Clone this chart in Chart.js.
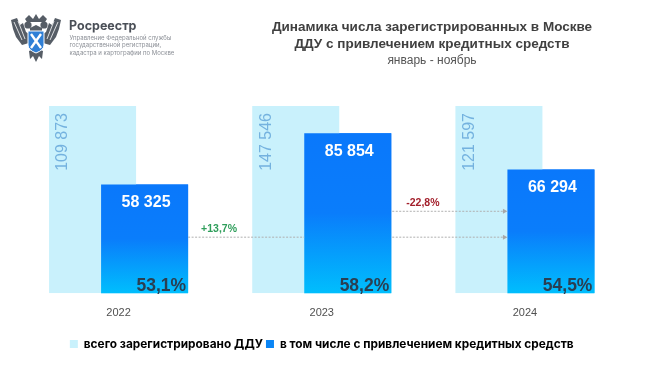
<!DOCTYPE html>
<html lang="ru"><head><meta charset="utf-8">
<script src="https://cdn.jsdelivr.net/npm/chart.js@4"></script>
<style>
html,body{margin:0;padding:0;background:#fff}
#wrap{position:relative;width:650px;height:365px;overflow:hidden;font-family:"Liberation Sans",Arial,sans-serif}
canvas{position:absolute;left:0;top:0}
.t{position:absolute;white-space:nowrap}
#title{left:207px;width:450px;top:19px;text-align:center;color:#404040;font-weight:bold;font-size:13.5px;line-height:16.5px}
#title div.s{font-weight:normal;font-size:12px;color:#555;line-height:16px}
#brand{left:69px;top:18px;font-family:Inter,sans-serif;font-weight:700;font-size:12.5px;color:#4a4f57}
#sub{left:69.5px;top:34px;font-family:Inter,sans-serif;font-size:6px;line-height:7.3px;color:#8b8f96}
svg{position:absolute;left:9px;top:12px}
</style></head><body>
<div id="wrap">
<canvas id="c" width="650" height="365"></canvas>
<svg width="54" height="52" viewBox="0 0 54 52">
 <g fill="#565d66">
  <path d="M2 8 L8 6 L11 13 L14 11 L17 20 L20 22 L20 31 L13 33 L7 25 L4 17Z"/>
  <path d="M52 8 L46 6 L43 13 L40 11 L37 20 L34 22 L34 31 L41 33 L47 25 L50 17Z"/>
  <circle cx="19" cy="13" r="3.6"/><circle cx="35" cy="13" r="3.6"/>
  <path d="M16 7 L20 3 L24 7 L27 2 L30 7 L34 3 L38 7 L36 10 L18 10Z"/>
  <path d="M21 16 L27 13 L33 16 L33 22 L21 22Z"/>
  <path d="M20 39 L27 36 L34 39 L33 47 L30 44 L27 50 L24 44 L21 47Z"/>
 </g>
 <path d="M5 10 L13 28 M9 9 L16 27 M49 10 L41 28 M45 9 L38 27" stroke="#fff" stroke-width=".8"/>
 <path d="M19 19 H35 V33 Q35 38 27 41 Q19 38 19 33Z" fill="#2f7fd6" stroke="#fff" stroke-width="1"/>
 <path d="M22 22 L32 36 M32 22 L22 36" stroke="#fff" stroke-width="2.4"/>
</svg>
<div class="t" id="brand">Росреестр</div>
<div class="t" id="sub">Управление Федеральной службы<br>государственной регистрации,<br>кадастра и картографии по Москве</div>
<div class="t" id="title">Динамика числа зарегистрированных в Москве<br>ДДУ с привлечением кредитных средств<div class="s">январь - ноябрь</div></div>
</div>
<script>
const categories = ["2022", "2023", "2024"];
const totalValues = [109873, 147546, 121597];
const creditValues = [58325, 85854, 66294];
const shareLabels = ["53,1%", "58,2%", "54,5%"];
const totalLabel = "всего зарегистрировано ДДУ";
const creditLabel = "в том числе с привлечением кредитных средств";
const changes = [
  {label: "+13,7%", color: "#2f9e5b", value: 30300, from: 0, to: 2},
  {label: "-22,8%", color: "#a31f2b", value: 44200, from: 1, to: 2}
];
const axisMax = 100430;

const fmt = v => String(v).replace(/\B(?=(\d{3})+$)/g, " ");

function creditGradient(ctx) {
  const chart = ctx.chart;
  if (ctx.type !== "data" || !chart.chartArea) return "#0a7bfa";
  const y = chart.scales.y;
  const top = y.getPixelForValue(creditValues[ctx.dataIndex]);
  const g = chart.ctx.createLinearGradient(0, top, 0, y.getPixelForValue(0));
  g.addColorStop(0, "#0a78fb");
  g.addColorStop(0.5, "#0a7dfb");
  g.addColorStop(1, "#00befd");
  return g;
}

const overlay = {
  id: "overlay",
  // the credit bars overlap the total bars and must sit in front of them
  afterDatasetDraw(chart, args) {
    if (args.index === 0) chart.getDatasetMeta(1).data.forEach(b => b.draw(chart.ctx));
  },
  afterDatasetsDraw(chart) {
    const c = chart.ctx, y = chart.scales.y;
    const light = chart.getDatasetMeta(0).data, dark = chart.getDatasetMeta(1).data;
    c.save();
    light.forEach((b, i) => {
      c.save();
      c.translate(b.x - b.width / 2 + 14, y.top + 7);
      c.rotate(-Math.PI / 2);
      c.font = "16px 'Liberation Sans'";
      c.fillStyle = "#74b2df";
      c.textAlign = "right";
      c.textBaseline = "middle";
      c.fillText(fmt(totalValues[i]), 0, 0);
      c.restore();
    });
    dark.forEach((b, i) => {
      c.font = "bold 16px 'Liberation Sans'";
      c.fillStyle = "#fff";
      c.textAlign = "center";
      c.textBaseline = "middle";
      c.fillText(fmt(creditValues[i]), b.x + 1.5, b.y + 18);
      c.font = "bold 17.5px 'Liberation Sans'";
      c.fillStyle = "#2a3f52";
      c.textAlign = "right";
      c.textBaseline = "alphabetic";
      c.fillText(shareLabels[i], b.x + b.width / 2 - 2, y.bottom - 2);
    });
    changes.forEach(ch => {
      const py = y.getPixelForValue(ch.value);
      const x0 = dark[ch.from].x + dark[ch.from].width / 2;
      const x1 = dark[ch.to].x - dark[ch.to].width / 2;
      c.strokeStyle = "#b0b0b0";
      c.lineWidth = 1;
      c.setLineDash([2, 1.5]);
      const seg = (a, b) => { c.beginPath(); c.moveTo(a, py + .5); c.lineTo(b, py + .5); c.stroke(); };
      if (ch.to - ch.from === 2) {
        const m = dark[ch.from + 1];
        seg(x0, m.x - m.width / 2);
        seg(m.x + m.width / 2 + 1, x1 - 4);
      } else seg(x0 + 1, x1 - 4);
      c.setLineDash([]);
      c.fillStyle = "#a8a8a8";
      c.beginPath(); c.moveTo(x1, py + .5); c.lineTo(x1 - 4.5, py - 2); c.lineTo(x1 - 4.5, py + 3); c.fill();
      c.font = "bold 10.5px 'Liberation Sans'";
      c.fillStyle = ch.color;
      c.textAlign = "left";
      c.textBaseline = "alphabetic";
      c.fillText(ch.label, ch.from === 0 ? x0 + 13 : x0 + 15, py - 5);
    });
    c.restore();
  }
};

new Chart(document.getElementById("c"), {
  type: "bar",
  data: {
    labels: categories,
    datasets: [
      {label: totalLabel, data: totalValues, backgroundColor: "#c9f1fc"},
      {label: creditLabel, data: creditValues, backgroundColor: creditGradient}
    ]
  },
  options: {
    responsive: false,
    animation: false,
    datasets: {bar: {categoryPercentage: 0.512, barPercentage: 1.673}},
    layout: {padding: {left: 17, right: 23.5, top: 106, bottom: 5}},
    scales: {
      x: {
        grid: {display: false}, border: {display: false},
        ticks: {color: "#505050", font: {family: "'Liberation Sans'", size: 11}, padding: 5},
        afterFit(s) { s.height = 42; }
      },
      y: {display: false, min: 0, max: axisMax}
    },
    plugins: {
      tooltip: {enabled: false},
      legend: {
        position: "bottom",
        labels: {
          boxWidth: 8, boxHeight: 8, padding: 3,
          color: "#4d5359",
          font: {family: "Inter", size: 11.85, weight: "700"},
          generateLabels: chart => [
            {text: totalLabel, fillStyle: "#c9f1fc", strokeStyle: "#c9f1fc", lineWidth: 0, datasetIndex: 0},
            {text: creditLabel, fillStyle: "#0a85f5", strokeStyle: "#0a85f5", lineWidth: 0, datasetIndex: 1}
          ]
        }
      }
    }
  },
  plugins: [overlay]
});
</script>
</body></html>
